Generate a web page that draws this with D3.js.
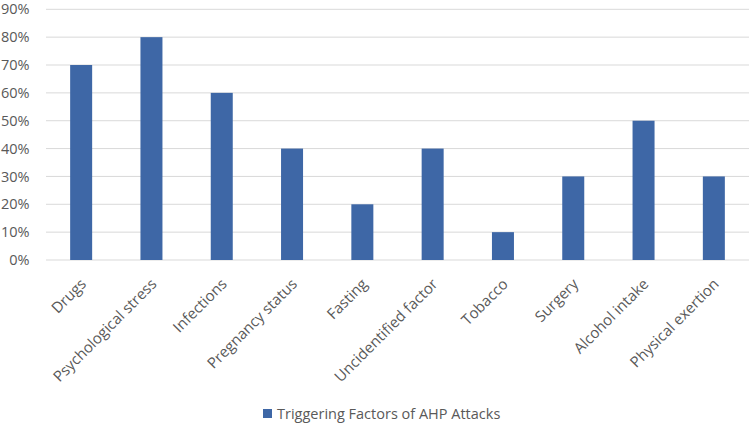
<!DOCTYPE html>
<html><head><meta charset="utf-8">
<script src="https://cdn.jsdelivr.net/npm/d3@7"></script>
<style>body{margin:0;background:#fff}svg{display:block}</style>
</head><body>
<svg id="c" width="750" height="424"></svg>
<script>
const categories = ["Drugs","Psychological stress","Infections","Pregnancy status","Fasting","Uncidentified factor","Tobacco","Surgery","Alcohol intake","Physical exertion"];
const values = [0.70,0.80,0.60,0.40,0.20,0.40,0.10,0.30,0.50,0.30];
const yTicks = [0,0.1,0.2,0.3,0.4,0.5,0.6,0.7,0.8,0.9];
const seriesName = "Triggering Factors of AHP Attacks";

const svg = d3.select("#c");
const font = "'Open Sans', 'Noto Sans', sans-serif";
const textColor = "#595959";
const barColor = "#3E67A6";

const x = d3.scaleBand().domain(categories).range([46, 749]).paddingInner(0.687).paddingOuter(0.3435);
const y = d3.scaleLinear().domain([0, 0.9]).range([260, 9.3]);

// gridlines
svg.append("g").selectAll("line").data(yTicks).join("line")
  .attr("x1", 46).attr("x2", 749)
  .attr("y1", d => y(d)).attr("y2", d => y(d))
  .attr("stroke", "#d9d9d9").attr("stroke-width", 1);

// y axis labels
const yAxis = d3.axisLeft(y).tickValues(yTicks).tickFormat(d3.format(".0%")).tickSize(0).tickPadding(0);
const gy = svg.append("g").attr("transform", "translate(29.5,0)").call(yAxis);
gy.select(".domain").remove();
gy.selectAll("text").attr("font-family", font).attr("font-size", 14.5).attr("fill", textColor);

// bars
svg.append("g").selectAll("rect").data(values).join("rect")
  .attr("x", (d, i) => x(categories[i]))
  .attr("width", x.bandwidth())
  .attr("y", d => y(d))
  .attr("height", d => y(0) - y(d))
  .attr("fill", barColor);

// x labels
svg.append("g").selectAll("text").data(categories).join("text")
  .attr("transform", d => `translate(${x(d) + x.bandwidth() / 2 + 6},${y(0) + 25}) rotate(-45)`)
  .attr("text-anchor", "end")
  .attr("font-family", font).attr("font-size", 15).attr("fill", textColor)
  .text(d => d);

// legend
const lg = svg.append("g").attr("transform", "translate(263,409)");
lg.append("rect").attr("width", 9).attr("height", 9).attr("fill", barColor);
lg.append("text").attr("x", 14).attr("y", 9.5).attr("font-family", font).attr("font-size", 14.5).attr("fill", textColor).text(seriesName);
</script>
</body></html>
